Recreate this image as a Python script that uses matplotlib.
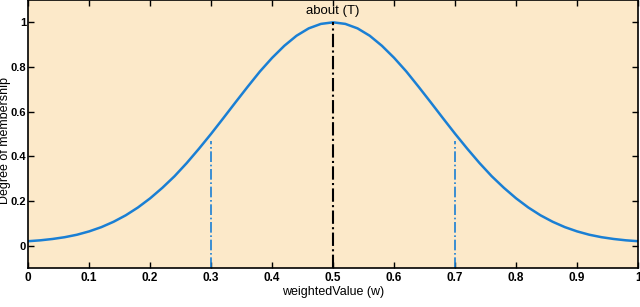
import matplotlib
matplotlib.use("Agg")
import matplotlib.pyplot as plt

# membership curve (x step 0.02)
xVals = [0.0, 0.02, 0.04, 0.06, 0.08, 0.1, 0.12, 0.14, 0.16, 0.18,
         0.2, 0.22, 0.24, 0.26, 0.28, 0.3, 0.32, 0.34, 0.36, 0.38,
         0.4, 0.42, 0.44, 0.46, 0.48, 0.5, 0.52, 0.54, 0.56, 0.58,
         0.6, 0.62, 0.64, 0.66, 0.68, 0.7, 0.72, 0.74, 0.76, 0.78,
         0.8, 0.82, 0.84, 0.86, 0.88, 0.9, 0.92, 0.94, 0.96, 0.98, 1.0]
membership = [0.02, 0.024, 0.03, 0.038, 0.049, 0.064, 0.083, 0.107, 0.136, 0.171,
              0.212, 0.259, 0.311, 0.37, 0.434, 0.501, 0.571, 0.642, 0.712, 0.78,
              0.841, 0.895, 0.94, 0.973, 0.993, 1.0, 0.993, 0.973, 0.94, 0.895,
              0.841, 0.78, 0.712, 0.642, 0.571, 0.501, 0.434, 0.37, 0.311, 0.259,
              0.212, 0.171, 0.136, 0.107, 0.083, 0.064, 0.049, 0.038, 0.03, 0.024, 0.02]

# vertical markers
sideX = [0.3, 0.7]
sideTop = [0.47, 0.47]
centreX = 0.5
centreTop = 1.0
label = "about (T)"

xTicks = [0, 0.1, 0.2, 0.3, 0.4, 0.5, 0.6, 0.7, 0.8, 0.9, 1]
xTickLabels = ["0", "0.1", "0.2", "0.3", "0.4", "0.5", "0.6", "0.7", "0.8", "0.9", "1"]
yTicks = [0, 0.2, 0.4, 0.6, 0.8, 1]
yTickLabels = ["0", "0.2", "0.4", "0.6", "0.8", "1"]

textFont = ["Liberation Sans", "DejaVu Sans"]
blue = "#1a7fd4"

fig = plt.figure(figsize=(6.4, 3.07), dpi=100)
ax = fig.add_axes([0.044, 0.127, 0.953, 0.873])
ax.set_facecolor("#fce9c9")

ax.plot(xVals, membership, color=blue, lw=1.8, solid_joinstyle="round")
for x, top in zip(sideX, sideTop):
    ax.plot([x, x], [-0.1, top], color=blue, lw=1.2, ls="-.")
ax.plot([centreX, centreX], [-0.1, centreTop], color="black", lw=1.5, ls="-.")
ax.text(centreX, 1.025, label, ha="center", va="bottom", fontsize=9.5, family=textFont)

ax.set_xlim(0, 1)
ax.set_ylim(-0.1, 1.1)
ax.set_xticks(xTicks)
ax.set_xticklabels(xTickLabels, family=textFont, fontweight="bold", fontsize=8.5)
ax.set_yticks(yTicks)
ax.set_yticklabels(yTickLabels, family=textFont, fontweight="bold", fontsize=8)
ax.tick_params(direction="in", top=True, right=True, length=4, width=1)
ax.tick_params(axis="x", pad=3)
ax.tick_params(axis="y", pad=1.5)

for side in ["left", "bottom", "top", "right"]:
    ax.spines[side].set_linewidth(1.2)

ax.set_xlabel("weightedValue (w)", fontsize=9, family=textFont, labelpad=1)
ax.set_ylabel("Degree of membership", fontsize=9, family=textFont)
ax.yaxis.set_label_coords(-0.028, 0.475)

fig.savefig("out.png", dpi=100)
